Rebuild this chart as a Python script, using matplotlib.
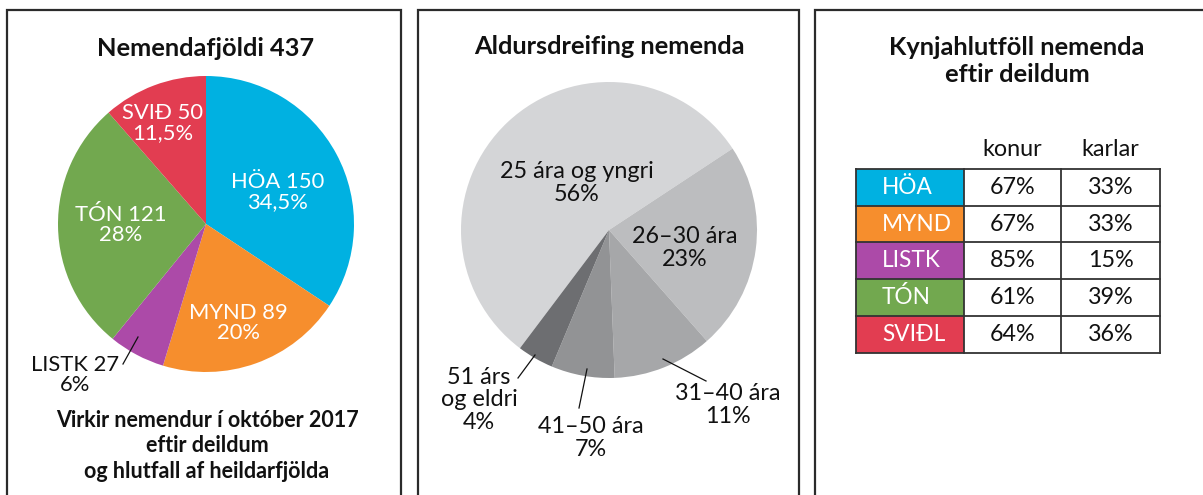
import matplotlib
matplotlib.use("Agg")
import matplotlib.pyplot as plt
from matplotlib.patches import Rectangle

# ── Data ─────────────────────────────────────────────────────────────────────
DEPTS = ["HÖA", "MYND", "LISTK", "TÓN", "SVIÐ"]
DEPT_COUNTS = [150, 89, 27, 121, 50]
DEPT_PCT = ["34,5%", "20%", "6%", "28%", "11,5%"]
DEPT_COLORS = ["#00B1E1", "#F68E2D", "#AC4AA8", "#72A84F", "#E23D51"]

AGE_GROUPS = ["25 ára og yngri", "26–30 ára", "31–40 ára", "41–50 ára", "51 árs\nog eldri"]
AGE_PCT = [56, 23, 11, 7, 4]
AGE_COLORS = ["#D4D5D7", "#BCBDBF", "#A6A7A9", "#929395", "#6D6E71"]

TABLE_ROWS = ["HÖA", "MYND", "LISTK", "TÓN", "SVIÐL"]
TABLE_COLS = ["konur", "karlar"]
WOMEN = [67, 67, 85, 61, 64]
MEN = [33, 33, 15, 39, 36]

# ── Style ────────────────────────────────────────────────────────────────────
W, H = 1203, 495
FONT = "Lato"
BORDER = "#2b2b2b"
INK = "#111111"
TITLE_SIZE = 18.3
LABEL_SIZE = 16.3

plt.rcParams["font.family"] = [FONT, "DejaVu Sans"]

fig = plt.figure(figsize=(W / 100, H / 100), dpi=100, facecolor="white")
ax = fig.add_axes([0, 0, 1, 1])


def y(v):
    """Image pixel row -> data y (origin at bottom)."""
    return H - v


# ── Panel frames (open at the bottom) ────────────────────────────────────────
for x0, x1 in [(7, 401), (418, 799), (815, 1210)]:
    ax.plot([x0, x0, x1, x1], [y(H + 5), y(10), y(10), y(H + 5)],
            color=BORDER, lw=1.6, solid_joinstyle="miter", clip_on=False)

# ── Panel 1: students per department ────────────────────────────────────────
total = sum(DEPT_COUNTS)
ax.text(206, y(48), f"Nemendafjöldi {total}", ha="center", va="center",
        fontsize=TITLE_SIZE, fontweight="bold", color=INK)

ax.pie(DEPT_COUNTS, colors=DEPT_COLORS, startangle=90, counterclock=False,
       center=(206, y(224)), radius=148, frame=True)

label_pos = [(278, 192), (238, 323), (75, 375), (121, 225), (163, 123)]
for name, cnt, pct, (lx, ly) in zip(DEPTS, DEPT_COUNTS, DEPT_PCT, label_pos):
    color = INK if name == "LISTK" else "white"
    ax.text(lx, y(ly), f"{name} {cnt}\n{pct}", ha="center", va="center",
            fontsize=LABEL_SIZE - 0.5, color=color, linespacing=1.05)
ax.plot([123, 138], [y(364), y(337)], color=INK, lw=0.9)

ax.text(207, y(446),
        "Virkir nemendur í október 2017\neftir deildum\nog hlutfall af heildarfjölda",
        ha="center", va="center", fontsize=15.5, fontweight="bold",
        color=INK, linespacing=1.28)

# ── Panel 2: age distribution ────────────────────────────────────────────────
ax.text(609, y(47), "Aldursdreifing nemenda", ha="center", va="center",
        fontsize=TITLE_SIZE, fontweight="bold", color=INK)

ax.pie(AGE_PCT, colors=AGE_COLORS, startangle=233, counterclock=False,
       center=(609, y(230)), radius=148, frame=True)

age_pos = [(577, 183), (685, 248), (728, 405), (591, 438), (479, 400)]
for grp, pct, (lx, ly) in zip(AGE_GROUPS, AGE_PCT, age_pos):
    ax.text(lx, y(ly), f"{grp}\n{pct}%", ha="center", va="center",
            fontsize=LABEL_SIZE + 0.5, color=INK, linespacing=1.1)
for (xa, ya), (xb, yb) in [((663, 359), (706, 381)),
                            ((587, 369), (579, 408)),
                            ((535, 355), (518, 378))]:
    ax.plot([xa, xb], [y(ya), y(yb)], color=INK, lw=0.9)

# ── Panel 3: gender ratio table ──────────────────────────────────────────────
ax.text(1017, y(61), "Kynjahlutföll nemenda\neftir deildum", ha="center",
        va="center", fontsize=TITLE_SIZE, fontweight="bold", color=INK,
        linespacing=1.25)

col_x = [856, 964, 1061, 1160]
row_top, row_h = 169, 36.7
for j, head in enumerate(TABLE_COLS):
    ax.text((col_x[j + 1] + col_x[j + 2]) / 2, y(150), head, ha="center",
            va="center", fontsize=LABEL_SIZE + 0.5, color=INK)

for i, (name, w, m) in enumerate(zip(TABLE_ROWS, WOMEN, MEN)):
    top = row_top + i * row_h
    ax.add_patch(Rectangle((col_x[0], y(top + row_h)), col_x[1] - col_x[0],
                           row_h, facecolor=DEPT_COLORS[i], edgecolor="none"))
    ax.text(col_x[0] + 26, y(top + row_h / 2), name, ha="left",
            va="center", fontsize=LABEL_SIZE, color="white")
    for j, val in enumerate([w, m]):
        ax.text((col_x[j + 1] + col_x[j + 2]) / 2, y(top + row_h / 2),
                f"{val}%", ha="center", va="center", fontsize=LABEL_SIZE + 0.5,
                color=INK)

# grid lines of the table
t_bottom = row_top + len(TABLE_ROWS) * row_h
for i in range(len(TABLE_ROWS) + 1):
    yy = row_top + i * row_h
    ax.plot([col_x[0], col_x[-1]], [y(yy), y(yy)], color="#333333", lw=1.3)
for xx in col_x:
    ax.plot([xx, xx], [y(row_top), y(t_bottom)], color="#333333", lw=1.3)

ax.set_xlim(0, W)
ax.set_ylim(0, H)
ax.set_aspect("equal")
ax.axis("off")

fig.savefig("out.png", dpi=100, facecolor="white")
